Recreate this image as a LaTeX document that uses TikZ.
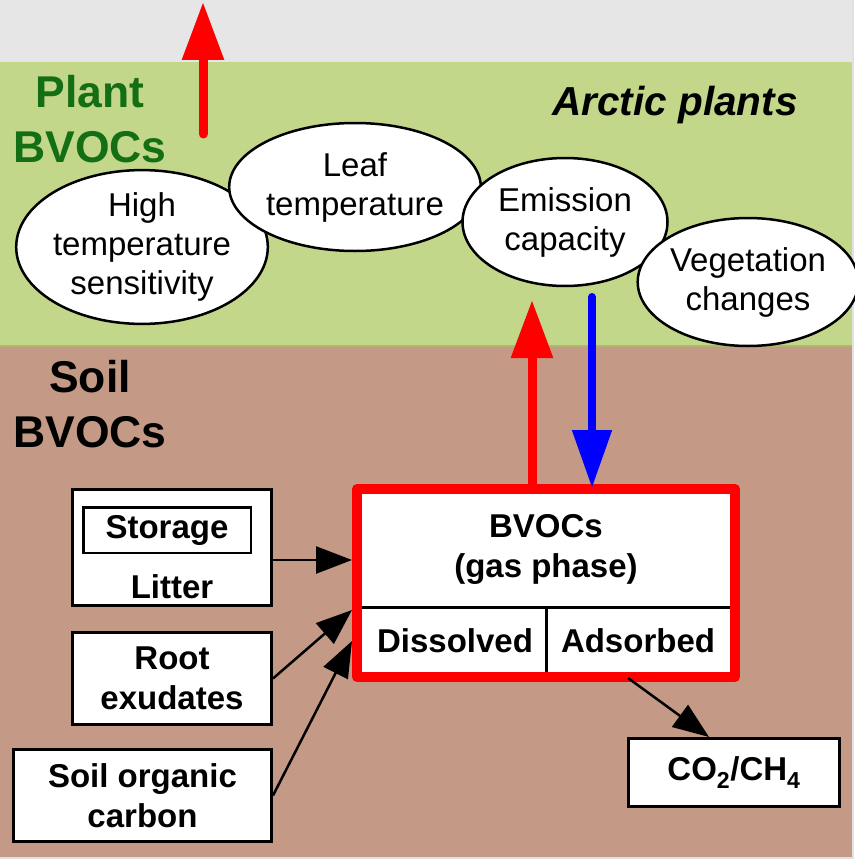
\documentclass[tikz,border=0pt]{standalone}
\usepackage{fontspec}
\setmainfont{Liberation Sans}
\usetikzlibrary{shapes.geometric,arrows.meta,calc}
\definecolor{topgray}{RGB}{230,230,230}
\definecolor{plantgreen}{RGB}{195,215,139}
\definecolor{soilbrown}{RGB}{196,154,134}
\definecolor{darkgreen}{RGB}{20,110,20}
\definecolor{edgeline}{RGB}{178,180,112}
\definecolor{rimgray}{RGB}{225,225,225}
\begin{document}
\begin{tikzpicture}[x=1pt,y=-1pt,
  ell/.style={ellipse,draw=black,line width=2.5pt,fill=white,inner sep=0pt,align=center,font=\fontsize{33}{39}\selectfont},
  box/.style={rectangle,draw=black,line width=3pt,fill=white,inner sep=0pt,align=center,font=\fontsize{33}{40}\selectfont\bfseries},
  boxtext/.style={inner sep=0pt,align=center,font=\fontsize{33}{40}\selectfont\bfseries},
  bigtitle/.style={inner sep=0pt,align=center,font=\fontsize{44.5}{54.5}\selectfont\bfseries},
  arr/.style={-{Triangle[length=36pt,width=27pt]},line width=2.5pt,black},
  redarr/.style={-{Triangle[length=58pt,width=40pt]},line width=9pt,red},
  bluearr/.style={-{Triangle[length=58pt,width=38pt]},line width=8pt,blue,line cap=round},
  divider/.style={line width=3pt,black}
]
\useasboundingbox (0,0) rectangle (854,859);
% background
\fill[rimgray] (0,0) rectangle (854,859);
\fill[topgray] (0,0) rectangle (852,62);
\fill[plantgreen] (0,62) rectangle (852,346);
\fill[soilbrown] (0,346) rectangle (852,857);
\draw[edgeline,line width=1.5pt] (0,346) -- (852,346);

% titles
\node[bigtitle,text=darkgreen] (planttitle) at (90,119) {Plant\\BVOCs};
\node[bigtitle,text=black] (soiltitle) at (90,404) {Soil\\BVOCs};
\node[inner sep=0pt,anchor=base,font=\fontsize{40.5}{46}\selectfont\bfseries\itshape] (arctic) at (675,115) {Arctic plants};

% ellipses
\node[ell,minimum width=246pt,minimum height=128pt] (hts) at (142,247) {High\\temperature\\sensitivity};
\node[ell,minimum width=222pt,minimum height=128pt] (leaf) at (355,187) {Leaf\\temperature};
\node[ell,minimum width=205pt,minimum height=128pt] (emis) at (565,222) {Emission\\capacity};
\node[ell,minimum width=206pt,minimum height=128pt] (veg) at (748,282) {Vegetation\\changes};

% main box
\node[draw=red,line width=10pt,fill=white,minimum width=378pt,minimum height=188pt,inner sep=0pt,line join=round] (main) at (546,583) {};
\draw[divider] ($(main.west)+(10,24)$) -- ($(main.east)+(-10,24)$);
\draw[divider] ($(main.center)+(0,24)$) -- ($(main.south)+(0,-10)$);
\node[boxtext] (gas) at (546,549) {BVOCs\\(gas phase)};
\node[boxtext,anchor=base] (diss) at (455,652) {Dissolved};
\node[boxtext,anchor=base] (ads) at (638,652) {Adsorbed};

% source boxes
\node[box,minimum width=199pt,minimum height=116pt] (litter) at (172,547.5) {};
\node[box,line width=2.5pt,minimum width=167.5pt,minimum height=45.5pt] (storage) at (167,530) {Storage};
\node[boxtext,anchor=base] (littertext) at (172,598) {Litter};
\node[box,minimum width=199pt,minimum height=92pt] (root) at (172,678.5) {Root\\exudates};
\node[box,minimum width=258pt,minimum height=92pt] (soc) at (142.5,795.5) {Soil organic\\carbon};
\node[box,minimum width=211pt,minimum height=68pt] (co2) at (734,772.5) {CO\textsubscript{2}/CH\textsubscript{4}};

% black arrows
\draw[arr] (litter.east |- 0,560) -- ($(main.west)+(0,-23)$);
\draw[arr] (root.east) -- ($(main.west)+(0,27)$);
\draw[arr] (soc.east) -- ($(main.west)+(0,58)$);
\draw[arr] ($(main.south)+(82,-4)$) -- ($(co2.north)+(-25,0)$);

% vertical arrows
\coordinate (uptip) at (532,300);
\coordinate (downstart) at (592,297);
\coordinate (topstart) at (203,134);
\coordinate (toptip) at (203,2);
\draw[redarr] ($(main.north)+(-14,5)$) -- (uptip);
\draw[bluearr] (downstart) -- ($(main.north)+(46,4)$);
\draw[redarr,line cap=round] (topstart) -- (toptip);
\end{tikzpicture}
\end{document}
